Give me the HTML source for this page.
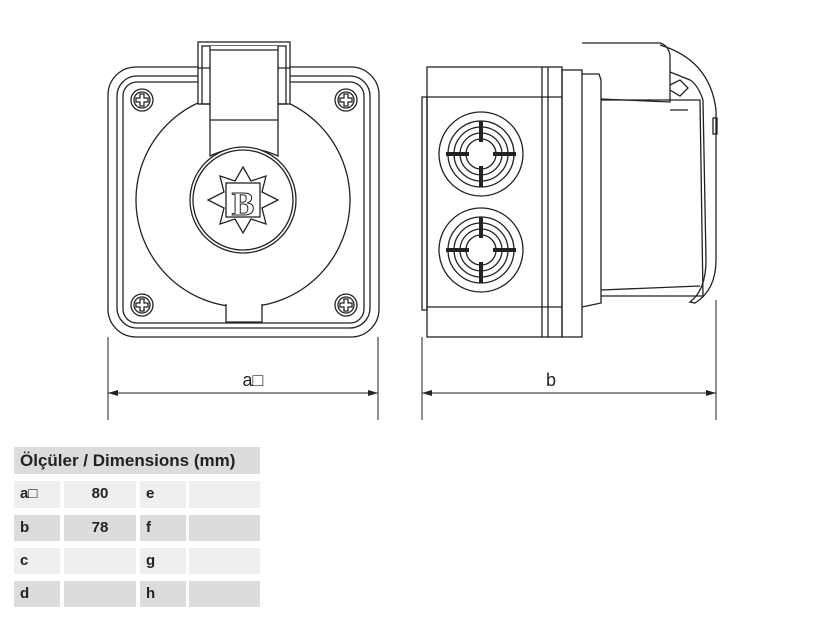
<!DOCTYPE html>
<html><head><meta charset="utf-8"><style>
body{margin:0;background:#fff;width:825px;height:619px;overflow:hidden;position:relative;font-family:"Liberation Sans",sans-serif}
.c{position:absolute;color:#222;font-size:15px;font-weight:bold;line-height:26px;padding-left:6px;box-sizing:border-box}
.l{background:#efefef}.d{background:#dcdcdc}
</style></head><body>
<svg width="825" height="440" style="position:absolute;left:0;top:0" fill="none" stroke="#222" stroke-width="1.3">
<defs>
<g id="s"><circle cx="0" cy="0" r="11"/><circle cx="0" cy="0" r="8"/><path d="M-2 -6 h4 v4 h4 v4 h-4 v4 h-4 v-4 h-4 v-4 h4z"/></g>
<g id="g"><circle r="42"/><circle r="33"/><circle r="27"/><circle r="21"/><circle r="15"/>
<g stroke-width="4"><line x1="0" y1="-33" x2="0" y2="-12"/><line x1="0" y1="33" x2="0" y2="12"/><line x1="-35" y1="0" x2="-12" y2="0"/><line x1="35" y1="0" x2="12" y2="0"/></g></g>
</defs>
<!-- front view -->
<rect x="108" y="67" width="271" height="270" rx="28"/>
<rect x="117" y="76" width="253" height="252" rx="20"/>
<rect x="123" y="82" width="241" height="241" rx="14"/>
<use href="#s" x="142" y="100"/><use href="#s" x="346" y="100"/>
<use href="#s" x="142" y="305"/><use href="#s" x="346" y="305"/>
<circle cx="243" cy="200" r="107" fill="#fff"/>
<rect x="226" y="300" width="36" height="22" fill="#fff" stroke="none"/>
<path d="M226 304 L226 322 L262 322 L262 304"/>
<rect x="198" y="42" width="92" height="62" fill="#fff"/>
<rect x="202" y="46" width="84" height="58"/>
<line x1="198" y1="68" x2="290" y2="68"/>
<path d="M210 46 L210 156 Q243 140 278 156 L278 46" fill="#fff"/>
<line x1="210" y1="50" x2="278" y2="50"/>
<line x1="210" y1="120" x2="278" y2="120"/>
<circle cx="243" cy="200" r="53" fill="#fff"/>
<circle cx="243" cy="200" r="50"/>
<polygon points="243,167 251,181 266,176 262,192 278,200 262,208 266,224 251,219 243,233 235,219 220,224 224,208 208,200 224,192 220,176 235,181"/>
<rect x="226" y="183" width="34" height="34"/>
<text x="243" y="215" font-family="Liberation Serif,serif" font-size="34" font-weight="bold" fill="#fff" stroke="#222" stroke-width="1" text-anchor="middle">B</text>
<!-- side view -->
<rect x="427" y="67" width="135" height="270"/>
<line x1="427" y1="97" x2="562" y2="97"/><line x1="427" y1="307" x2="562" y2="307"/>
<rect x="422" y="97" width="5" height="213"/>
<line x1="542" y1="67" x2="542" y2="337"/><line x1="548" y1="67" x2="548" y2="337"/>
<rect x="562" y="70" width="20" height="267"/>
<path d="M582 74 L599 74 L601 80 L601 303 L582 307"/>
<path d="M601 100 L700 100 L703 296 L601 296"/>
<path d="M601 290 L700 286"/>
<path d="M582 43 L660 43 Q668 45 670 55 L670 102 L601 99"/>
<path d="M660 45 Q710 60 716 110 L716 260 Q716 290 695 303 L690 302 Q706 290 706 260 L703 100 Q698 85 690 80 L670 72"/>
<path d="M670 85 L680 80 L688 88 L680 96 L670 90"/>
<path d="M670 110 L688 110"/>
<rect x="713" y="118" width="4" height="16"/>
<use href="#g" x="481" y="154"/><use href="#g" x="481" y="250"/>
<!-- dimensions -->
<g stroke-width="1"><line x1="108" y1="337" x2="108" y2="420"/><line x1="378" y1="337" x2="378" y2="420"/>
<line x1="108" y1="393" x2="378" y2="393"/>
<line x1="422" y1="337" x2="422" y2="420"/><line x1="716" y1="300" x2="716" y2="420"/>
<line x1="422" y1="393" x2="716" y2="393"/></g>
<g fill="#222" stroke="none"><path d="M108 393 l10 -3 v6z"/><path d="M378 393 l-10 -3 v6z"/><path d="M422 393 l10 -3 v6z"/><path d="M716 393 l-10 -3 v6z"/>
<text x="253" y="386" font-size="18" text-anchor="middle">a□</text>
<text x="551" y="386" font-size="18" text-anchor="middle">b</text></g>
</svg>
<div class="c d" style="left:14px;top:447px;width:246px;height:27px;font-size:17px;line-height:27px">Ölçüler / Dimensions (mm)</div>
<div class="c l" style="left:14px;top:481px;width:46px;height:27px">a□</div>
<div class="c l" style="left:64px;top:481px;width:72px;height:27px;text-align:center;padding:0">80</div>
<div class="c l" style="left:140px;top:481px;width:46px;height:27px">e</div>
<div class="c l" style="left:189px;top:481px;width:71px;height:27px"></div>
<div class="c d" style="left:14px;top:515px;width:46px;height:26px">b</div>
<div class="c d" style="left:64px;top:515px;width:72px;height:26px;text-align:center;padding:0">78</div>
<div class="c d" style="left:140px;top:515px;width:46px;height:26px">f</div>
<div class="c d" style="left:189px;top:515px;width:71px;height:26px"></div>
<div class="c l" style="left:14px;top:548px;width:46px;height:26px">c</div>
<div class="c l" style="left:64px;top:548px;width:72px;height:26px"></div>
<div class="c l" style="left:140px;top:548px;width:46px;height:26px">g</div>
<div class="c l" style="left:189px;top:548px;width:71px;height:26px"></div>
<div class="c d" style="left:14px;top:581px;width:46px;height:26px">d</div>
<div class="c d" style="left:64px;top:581px;width:72px;height:26px"></div>
<div class="c d" style="left:140px;top:581px;width:46px;height:26px">h</div>
<div class="c d" style="left:189px;top:581px;width:71px;height:26px"></div>
</body></html>
